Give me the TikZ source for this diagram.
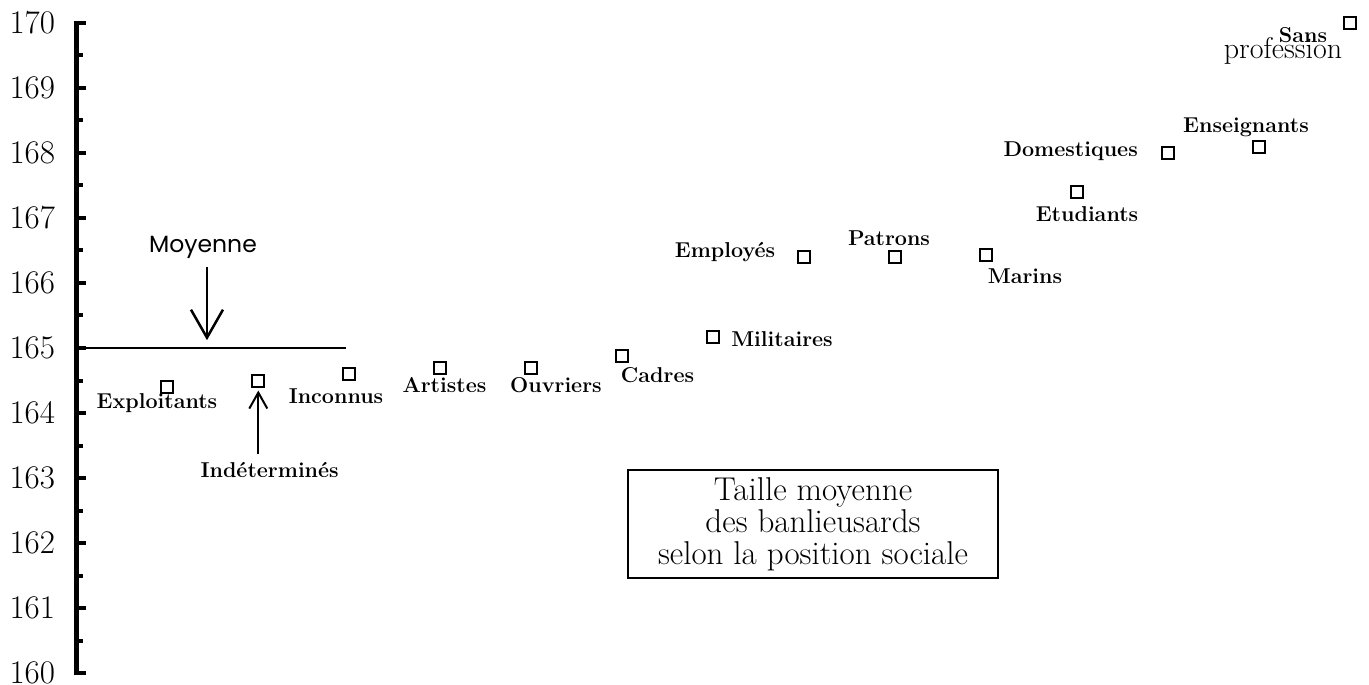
\documentclass[tikz,border=0pt]{standalone}
\usepackage{fontspec}
\newfontfamily\moyfont{Poppins}
\usetikzlibrary{arrows.meta}

\begin{document}
\begin{tikzpicture}[x=91pt, y=65.06pt,
  sq/.style={draw, line width=2pt, minimum size=12pt, inner sep=0pt},
  lab/.style={anchor=base, inner sep=0pt, font=\fontsize{21.5}{24}\selectfont\bfseries}]
\useasboundingbox (-0.8385,-0.1798) rectangle (14.2055,10.349);

% axe des tailles
\draw[line width=5pt] (0,-0.03) -- (0,10.03);
\foreach \v in {0,...,10} {
  \pgfmathtruncatemacro\val{160+\v}
  \draw[line width=4pt] (0,\v) -- ++(9.5pt,0);
  \node[anchor=east, inner sep=0pt, font=\fontsize{33}{36}\selectfont] (t\v) at (-0.232,\v) {\val};
}
\foreach \v in {0.5,1.5,...,9.5}
  \draw[line width=4pt] (0,\v) -- ++(6.5pt,0);

% moyenne
\draw[line width=2pt] (0,5) -- (2.96,5);
\node[anchor=base, font=\moyfont\fontsize{23.5}{26}\selectfont] (moy) at (1.392,6.471) {Moyenne};
\coordinate (moytip) at (1.436,5.12);
\draw[line width=2pt, shorten <=5pt, -{Straight Barb[length=28pt,width=32pt,line width=2.5pt]}] (moy.south -| moytip) -- (moytip);

% points
\foreach \n/\x/\v in {expl/1/4.4, ind/2/4.5, inc/3/4.6, art/4/4.7, ouv/5/4.7, cad/6/4.88, mil/7/5.17,
    emp/8/6.4, pat/9/6.4, mar/10/6.43, etu/11/7.4, dom/12/8.0, ens/13/8.09, sans/14/10}
  \node[sq] (\n) at (\x,\v) {};

\node[lab] (expllab) at (0.887,4.073) {Exploitants};
\node[lab] (indlab) at (2.125,3.006) {Indéterminés};
\node[lab] (inclab) at (2.854,4.150) {Inconnus};
\node[lab] (artlab) at (4.046,4.313) {Artistes};
\node[lab] (ouvlab) at (5.271,4.313) {Ouvriers};
\node[lab] (cadlab) at (6.387,4.473) {Cadres};
\node[lab] (millab) at (7.755,5.020) {Militaires};
\node[lab] (emplab) at (7.129,6.394) {Employés};
\node[lab] (patlab) at (8.931,6.568) {Patrons};
\node[lab] (marlab) at (10.425,5.994) {Marins};
\node[lab] (etulab) at (11.107,6.941) {Etudiants};
\node[lab] (domlab) at (10.927,7.940) {Domestiques};
\node[lab] (enslab) at (12.854,8.315) {Enseignants};
\node[lab] (sanslab) at (13.480,9.699) {Sans};
\node[anchor=base, inner sep=0pt, font=\fontsize{30}{32}\selectfont] (proflab) at (13.261,9.453) {profession};

\draw[line width=2pt, shorten <=8pt, shorten >=3pt, -{Straight Barb[length=16pt,width=18pt]}] (indlab.north -| ind) -- (ind.south);

% titre
\node[draw, line width=2pt, minimum width=370.6pt, minimum height=108.3pt, align=center,
  font=\fontsize{33}{32}\selectfont] (titre) at (8.096,2.292) {Taille moyenne\\ des banlieusards\\ selon la position sociale};

\end{tikzpicture}
\end{document}
